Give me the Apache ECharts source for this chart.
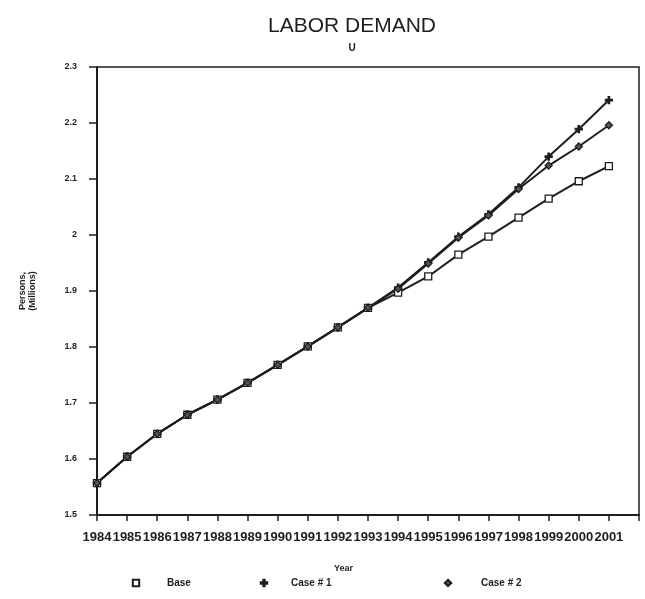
<!DOCTYPE html>
<html>
<head>
<meta charset="utf-8">
<script src="https://cdn.jsdelivr.net/npm/echarts@6/dist/echarts.min.js"></script>
<style>
  html, body { margin: 0; padding: 0; background: #fff; }
  #grafico { width: 645px; height: 599px; }
</style>
</head>
<body>
<div id="grafico"></div>
<script>
var anios = [1984, 1985, 1986, 1987, 1988, 1989, 1990, 1991, 1992, 1993, 1994, 1995, 1996, 1997, 1998, 1999, 2000, 2001];
var base = [1.557, 1.604, 1.645, 1.679, 1.706, 1.736, 1.768, 1.801, 1.835, 1.870, 1.897, 1.926, 1.965, 1.997, 2.031, 2.065, 2.096, 2.123];
var caso1 = [1.557, 1.604, 1.645, 1.679, 1.706, 1.736, 1.768, 1.801, 1.835, 1.870, 1.906, 1.951, 1.997, 2.037, 2.085, 2.140, 2.189, 2.241];
var caso2 = [1.557, 1.604, 1.645, 1.679, 1.706, 1.736, 1.768, 1.801, 1.835, 1.870, 1.904, 1.949, 1.995, 2.035, 2.082, 2.124, 2.158, 2.196];
var nombres = ['Base', 'Case # 1', 'Case # 2'];

var tinta = '#1e1e1e';
var fuente = 'Liberation Sans';
var simboloMas = 'path://M4,0 L6,0 L6,4 L10,4 L10,6 L6,6 L6,10 L4,10 L4,6 L0,6 L0,4 L4,4 Z';

function pares(valores) {
    return anios.map(function(a, i) { return [a, valores[i]]; });
}

function serie(nombre, valores, simbolo, relleno) {
    return {
        name: nombre,
        type: 'line',
        data: pares(valores),
        symbol: simbolo,
        symbolSize: 7,
        showAllSymbol: true,
        lineStyle: { color: tinta, width: 2 },
        itemStyle: { color: relleno, borderColor: tinta, borderWidth: 1.3 },
        emphasis: { disabled: true }
    };
}

function leyenda(nombre, izq, gap) {
    return {
        data: [nombre],
        left: izq,
        bottom: 6,
        itemWidth: 8,
        itemHeight: 8,
        textStyle: { color: tinta, fontFamily: fuente, fontWeight: 'bold', fontSize: 10, padding: [0, 0, 0, gap] }
    };
}

var myChart = echarts.init(document.getElementById('grafico'));
option = {
    backgroundColor: '#fff',
    animation: false,
    title: {
        text: 'LABOR DEMAND',
        subtext: 'U',
        left: 347,
        textAlign: 'center',
        top: 11,
        itemGap: 6,
        textStyle: { color: tinta, fontFamily: fuente, fontWeight: 'normal', fontSize: 21 },
        subtextStyle: { color: tinta, fontFamily: fuente, fontWeight: 'bold', fontSize: 10 }
    },
    legend: [
        leyenda('Base', 126, 22),
        leyenda('Case # 1', 254, 18),
        leyenda('Case # 2', 438, 24)
    ],
    grid: {
        left: 97,
        right: 6,
        top: 67,
        bottom: 84,
        show: true,
        borderColor: tinta,
        borderWidth: 1.5
    },
    graphic: [{
        type: 'text',
        left: 334,
        top: 564,
        style: { text: 'Year', fill: tinta, font: 'bold 9px ' + fuente }
    }],
    xAxis: {
        type: 'value',
        min: 1984,
        max: 2002,
        interval: 1,
        splitLine: { show: false },
        axisLine: { lineStyle: { color: tinta, width: 2 } },
        axisTick: { length: 6, lineStyle: { color: tinta, width: 1.5 } },
        axisLabel: {
            margin: 16,
            color: tinta,
            fontFamily: fuente,
            fontWeight: 'bold',
            fontSize: 13,
            formatter: function(v) { return v === 2002 ? '' : String(v); }
        }
    },
    yAxis: {
        type: 'value',
        min: 1.5,
        max: 2.3,
        interval: 0.1,
        name: 'Persons,\n(Millions)',
        nameLocation: 'middle',
        nameGap: 59,
        nameTextStyle: { color: tinta, fontFamily: fuente, fontWeight: 'bold', fontSize: 9, lineHeight: 10 },
        splitLine: { show: false },
        axisLine: { lineStyle: { color: tinta, width: 2 } },
        axisTick: { length: 8, lineStyle: { color: tinta, width: 1.5 } },
        axisLabel: {
            margin: 20,
            color: tinta,
            fontFamily: fuente,
            fontWeight: 'bold',
            fontSize: 9,
            formatter: function(v) { return String(+v.toFixed(1)); }
        }
    },
    series: [
        serie(nombres[0], base, 'rect', '#fff'),
        serie(nombres[1], caso1, simboloMas, tinta),
        serie(nombres[2], caso2, 'diamond', '#555')
    ]
};
myChart.setOption(option, true);
</script>
</body>
</html>
